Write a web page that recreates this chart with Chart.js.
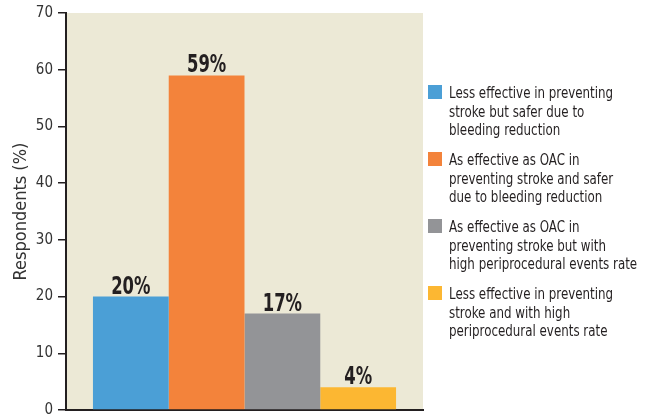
<!DOCTYPE html>
<html lang="en">
<head>
  <meta charset="UTF-8" />
  <title>Respondents (%)</title>
  <style>
    body { margin: 0; background: #fff; }
    #wrap { position: relative; width: 654px; height: 420px; }
    #legend { position: absolute; left: 428px; top: 84px; width: 260px; font-family: "Liberation Sans Narrow", "DejaVu Sans Condensed", sans-serif; font-size: 16.5px; color: #231f20; }
    .item { position: relative; padding-left: 21px; line-height: 18.5px; height: 67px; }
    .item .box { position: absolute; left: 0; top: 1px; width: 14px; height: 14px; }
    .item .txt { display: block; transform: scaleX(0.8); transform-origin: left top; white-space: nowrap; }
  </style>
  <script src="https://cdn.jsdelivr.net/npm/chart.js"></script>
</head>
<body>
  <div id="wrap">
    <canvas id="chart" width="654" height="420"></canvas>
    <div id="legend"></div>
  </div>
  <script>
    const answers = [
      ["Less effective in preventing", "stroke but safer due to", "bleeding reduction"],
      ["As effective as OAC in", "preventing stroke and safer", "due to bleeding reduction"],
      ["As effective as OAC in", "preventing stroke but with", "high periprocedural events rate"],
      ["Less effective in preventing", "stroke and with high", "periprocedural events rate"]
    ];
    const percents = [20, 59, 17, 4];
    const colors = ["#4b9fd6", "#f3833b", "#939497", "#fcb732"];

    const ink = "#231f20";
    const narrow = '"Liberation Sans Narrow", "DejaVu Sans Condensed", sans-serif';

    // beige fill behind the plot
    const plotBg = {
      id: "plotBg",
      beforeDraw(chart) {
        const { ctx, chartArea: a } = chart;
        ctx.save();
        ctx.fillStyle = "#ece9d6";
        ctx.fillRect(a.left, a.top, a.right - a.left, a.bottom - a.top);
        ctx.restore();
      }
    };

    // percentage above each bar, squeezed to look condensed
    const barLabels = {
      id: "barLabels",
      afterDatasetsDraw(chart) {
        const ctx = chart.ctx;
        chart.data.datasets.forEach((ds, i) => {
          const bar = chart.getDatasetMeta(i).data[0];
          ctx.save();
          ctx.translate(bar.x, bar.y - 3);
          ctx.scale(0.76, 1);
          ctx.font = "bold 24px " + narrow;
          ctx.fillStyle = ink;
          ctx.textAlign = "center";
          ctx.textBaseline = "alphabetic";
          ctx.fillText(ds.data[0] + "%", 0, 0);
          ctx.restore();
        });
      }
    };

    new Chart(document.getElementById("chart"), {
      type: "bar",
      data: {
        labels: [""],
        datasets: percents.map((v, i) => ({
          label: answers[i].join(" "),
          data: [v],
          backgroundColor: colors[i],
          barPercentage: 1,
          categoryPercentage: 0.849
        }))
      },
      options: {
        responsive: false,
        animation: false,
        layout: { padding: { top: 13, right: 231, bottom: 0, left: 0 } },
        plugins: { legend: { display: false }, tooltip: { enabled: false } },
        scales: {
          x: {
            ticks: { display: false },
            grid: { display: false },
            border: { display: true, color: ink, width: 2 },
            afterFit(scale) { scale.height = 10; }
          },
          y: {
            min: 0,
            max: 70,
            ticks: { stepSize: 10, color: "#333", font: { family: narrow, size: 15 }, padding: 5 },
            grid: { drawOnChartArea: false, tickLength: 8, color: ink, lineWidth: 1.5 },
            border: { color: ink, width: 2 },
            title: { display: true, text: "Respondents (%)", color: "#333", font: { family: narrow, size: 18 }, padding: { top: 11, bottom: 0 } },
            afterFit(scale) {
              scale.width = 66;
              scale.paddingTop = 0;
              scale.paddingBottom = 0;
            }
          }
        }
      },
      plugins: [plotBg, barLabels]
    });

    const legend = document.getElementById("legend");
    answers.forEach((lines, i) => {
      const item = document.createElement("div");
      item.className = "item";
      item.innerHTML = `<span class="box" style="background:${colors[i]}"></span><span class="txt">${lines.join("<br>")}</span>`;
      legend.appendChild(item);
    });
  </script>
</body>
</html>
